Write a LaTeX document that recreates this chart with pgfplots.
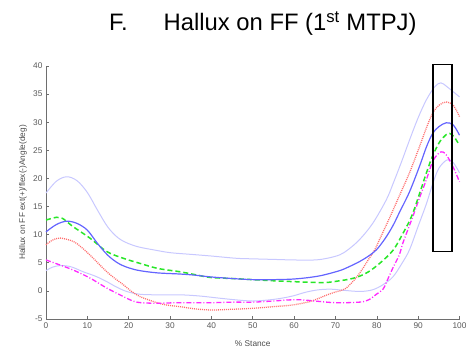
\documentclass[border=0pt]{standalone}
\usepackage{pgfplots}
\pgfplotsset{compat=1.18}
\usepackage{fontspec}
\setmainfont{Liberation Sans}
\definecolor{band}{RGB}{200,200,255}
\definecolor{meanblue}{RGB}{100,100,255}
\definecolor{mgreen}{RGB}{40,230,40}
\definecolor{mred}{RGB}{255,110,110}
\definecolor{mmag}{RGB}{255,40,255}
\definecolor{axgray}{RGB}{110,110,110}
\begin{document}
\begin{tikzpicture}
\useasboundingbox (0,0) rectangle (467bp,352bp);
\node[anchor=base west, inner sep=0pt] at (109bp,321bp) {\fontsize{23.8bp}{28bp}\selectfont F.\hspace{36bp}Hallux on FF (1\textsuperscript{st} MTPJ)};
\begin{axis}[
  at={(46bp,33bp)}, anchor=south west,
  scale only axis, width=413.5bp, height=253bp,
  xmin=0, xmax=100, ymin=-5, ymax=40,
  axis x line*=bottom, axis y line*=left,
  axis line style={axgray, line width=0.6bp},
  tick align=inside, major tick length=3bp,
  tick style={axgray, line width=0.6bp},
  xtick={0,10,...,100}, ytick={-5,0,...,40},
  /pgf/number format/assume math mode=true,
  ticklabel style={font=\fontsize{8.3bp}{10bp}\selectfont, text=black!65},
  xlabel={\% Stance},
  ylabel={Hallux on FF ext(+)/flex(-)Angle(deg)},
  label style={font=\fontsize{8.3bp}{10bp}\selectfont, text=black!70},
  xlabel style={at={(axis description cs:0.5,-0.096)}, anchor=center},
  ylabel style={at={(axis description cs:-0.0556,0.5)}, anchor=center},
  clip=false,
  every axis plot/.append style={smooth, tension=0.55},
]
% upper SD band
\addplot[band, line width=1bp] coordinates {
(0,17.4) (2.5,19.5) (5,20.3) (7.5,19.6) (10,17.5) (12.5,14.3) (15,11.3) (17.5,9.4) (20,8.4) (22.5,7.8) (26,7.3) (30,6.8) (35,6.5) (40,6.2) (46,5.8) (50,5.7) (55,5.6) (60,5.5) (65,5.5) (68,5.8) (71,6.4) (73,7.3) (75.8,9.1) (79,12) (82.3,16.2) (84,19.2) (86,23) (88,27) (90,30.8) (92,34) (94,36.3) (95.5,37) (97,36.3) (100,34.5)};
% lower SD band
\addplot[band, line width=1bp] coordinates {
(0,3.6) (1.5,4.2) (3.4,4.5) (6,4.3) (9,3.4) (12,2.6) (14.7,1.65) (17,0.7) (19.5,-0.1) (22.7,-0.6) (27,-0.7) (32.4,-0.7) (37,-0.9) (42,-1.3) (46,-1.6) (50,-1.8) (54,-1.6) (57,-1.3) (59.7,-0.9) (63,-0.2) (66,0.2) (69,0.3) (72,0.1) (76,-0.1) (79,0.2) (81.5,1.1) (83.9,2.5) (86,4.8) (87.9,7.3) (90,11.5) (92,15.5) (93.5,19) (95,21.8) (97,23.3) (98.5,22.8) (100,21)};
% red dotted
\addplot[mred, line width=1.3bp, dash pattern=on 1bp off 1bp] coordinates {
(0,8.2) (1.5,9.0) (3.4,9.4) (6.6,8.8) (8.5,7.8) (10.6,6.4) (12.5,5.0) (14.7,3.4) (16.5,2.3) (18.7,1.1) (20.5,0) (22.7,-1.0) (26,-1.9) (29,-2.5) (32.4,-2.8) (36,-3.2) (40,-3.4) (44,-3.3) (50,-3.1) (55,-2.8) (59.7,-2.5) (63.8,-1.9) (66,-1.3) (68,-0.7) (70,-0.2) (72.2,0.3) (74,1.5) (75.8,3.1) (78,5.6) (79.5,7.3) (80.7,9.2) (83.1,13) (85.5,17) (87.9,21) (90.3,25.6) (92,29) (93.5,31.6) (95,33) (96.8,33.6) (98.5,33) (100,31)};
% magenta dash-dot
\addplot[mmag, line width=1.3bp, dash pattern=on 5bp off 2bp on 1bp off 2bp] coordinates {
(0,5.5) (3.4,4.6) (6.6,3.7) (10.6,2.3) (14.7,0.5) (18.7,-1.0) (21,-1.8) (23,-2.1) (27,-2.2) (32,-2.1) (40,-2.1) (45,-2.0) (50,-2.0) (55,-1.8) (59,-1.6) (62,-1.6) (65,-1.8) (70,-2.1) (75.8,-2.0) (78,-1.6) (79.9,-0.6) (81.5,0.3) (82.3,1.5) (83.9,4.1) (85.5,6.5) (86.3,8.5) (88.7,13.2) (90.3,16.5) (92,19.8) (93.5,23) (95,24.5) (96,24.7) (97,24) (98.6,21.8) (100,19.4)};
% green dashed
\addplot[mgreen, line width=1.5bp, dash pattern=on 5bp off 3bp] coordinates {
(0,12.6) (2.6,13.1) (4,12.9) (6.6,11.4) (10.6,9.4) (14.7,7.0) (18.7,5.8) (22.7,4.9) (27,4.0) (32.4,3.4) (36,2.9) (39.6,2.4) (45,2.2) (50,2.0) (55,1.8) (59.7,1.65) (65,1.5) (68,1.5) (71,1.8) (73.5,2.1) (75.8,2.6) (78,3.4) (80.7,4.9) (83.9,7.2) (86.3,10.2) (88.7,13.8) (92,21) (93.5,24) (95.2,26.5) (96.8,27.8) (97.6,28) (98.6,27.5) (100,25.9)};
% mean solid
\addplot[meanblue, line width=1.2bp] coordinates {
(0,10.5) (2.5,11.8) (5,12.4) (7.5,12.0) (10,10.8) (12.5,8.4) (15,6.3) (17.5,4.9) (20,4.1) (22.7,3.6) (27,3.2) (32.4,3.0) (36,2.8) (39.6,2.5) (45,2.2) (50,2.0) (55,2.0) (59.7,2.1) (63.8,2.4) (67,2.8) (71,3.6) (73,4.2) (75.8,5.2) (78,6.2) (79.9,7.3) (82,9.3) (83.9,11.6) (85.5,14) (87.9,17.6) (90.3,22.1) (92,25.6) (93.5,28) (95,29.2) (96.8,29.9) (98.5,29.5) (100,27.7)};
\draw[black, line width=1.5bp] (axis cs:93.6,7) rectangle (axis cs:98.2,40.3);
\end{axis}
\end{tikzpicture}
\end{document}
